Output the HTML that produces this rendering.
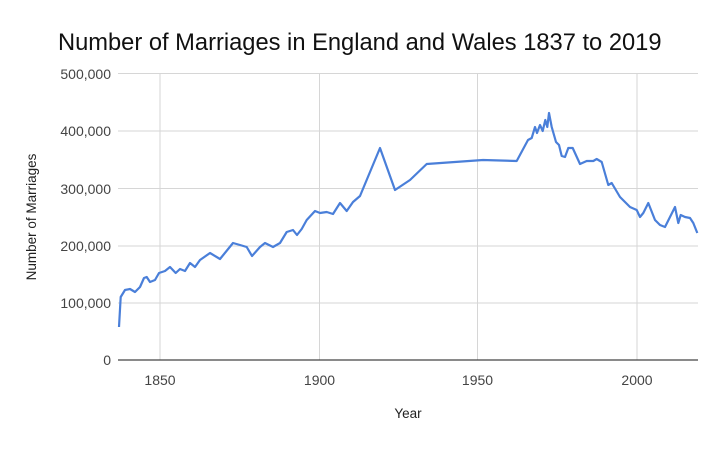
<!DOCTYPE html>
<html><head><style>body{margin:0;background:#fff}</style></head><body>
<svg width="720" height="445" xmlns="http://www.w3.org/2000/svg" font-family="Liberation Sans, Arial, sans-serif">
<rect width="720" height="445" fill="#fff"/>
<text x="58" y="50" font-size="23.7" fill="#111">Number of Marriages in England and Wales 1837 to 2019</text>
<g stroke="#d6d6d6" stroke-width="1">
<line x1="118" y1="73.5" x2="698" y2="73.5"/>
<line x1="118" y1="131" x2="698" y2="131"/>
<line x1="118" y1="188.5" x2="698" y2="188.5"/>
<line x1="118" y1="246" x2="698" y2="246"/>
<line x1="118" y1="303" x2="698" y2="303"/>
<line x1="160" y1="73" x2="160" y2="360"/>
<line x1="319.5" y1="73" x2="319.5" y2="360"/>
<line x1="477.5" y1="73" x2="477.5" y2="360"/>
<line x1="637" y1="73" x2="637" y2="360"/>
</g>
<line x1="118" y1="360" x2="698" y2="360" stroke="#444" stroke-width="1.2"/>
<g font-size="14" fill="#444" text-anchor="end">
<text x="111" y="79">500,000</text>
<text x="111" y="136">400,000</text>
<text x="111" y="194">300,000</text>
<text x="111" y="251">200,000</text>
<text x="111" y="308">100,000</text>
<text x="111" y="365">0</text>
</g>
<g font-size="14" fill="#444" text-anchor="middle">
<text x="160" y="385">1850</text>
<text x="319.5" y="385">1900</text>
<text x="477.5" y="385">1950</text>
<text x="637" y="385">2000</text>
<text x="408" y="418" font-size="13.5" fill="#222">Year</text>
</g>
<text transform="translate(36,217) rotate(-90)" font-size="13.5" fill="#222" text-anchor="middle">Number of Marriages</text>
<polyline fill="none" stroke="#4a7fd9" stroke-width="2.2" stroke-linejoin="round" points="119,327 120.7,297 125,290 130,289 135,292 140,287 144,278 146.7,277 150,282 155,280 159,273 165,271 170,267 175.7,273 180,269 185,271 190,263 195,267 200,260 210,253 220,259 233,243 240,245 246.7,247 252,256 260,247 265,243 273,247 280,243 286.7,232 293,230 297,235 301.7,229 306.7,220 315,211 320,213 326.7,212 333,214 340,203 346.7,211 353,202 360,196 380,148 395,190 410,180 426.7,164 483,160 516.7,161 528,140 531.7,138 535,127 537,133 540,125 542.7,131 545.3,120 547.3,127 549,113 551.7,127 556,142 559,145 561.7,156 565,157 568.3,148 572.7,148 580,164 586.7,161 593.3,161 596.7,159 601.7,162 608.3,185 611.7,183 620,197 630,207 636.7,210 640,217 643.3,213 648.3,203 655,220 660,225 665,227 670,217 675,207 678.3,223 680.7,215 685,217 690,218 693.3,223 697.3,233"/>
</svg>
</body></html>
